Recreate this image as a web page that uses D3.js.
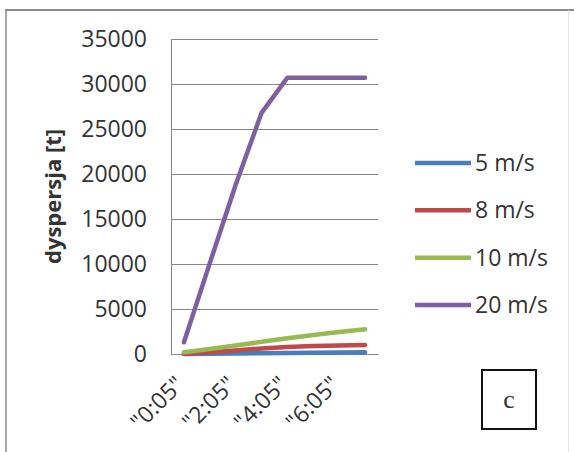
<!DOCTYPE html>
<html>
<head>
<meta charset="utf-8">
<script src="https://cdn.jsdelivr.net/npm/d3@7"></script>
<style>
  html, body { margin: 0; padding: 0; background: #fff; }
  svg { display: block; }
  text { font-family: "Open Sans", "DejaVu Sans", sans-serif; fill: #333; }
</style>
</head>
<body>
<svg id="chart" width="574" height="452"></svg>
<script>
// Time steps (every other one is labelled on the axis)
const categories = ['"0:05"', '"1:05"', '"2:05"', '"3:05"', '"4:05"', '"5:05"', '"6:05"', '"7:05"'];
const shownLabels = ['"0:05"', '"2:05"', '"4:05"', '"6:05"'];

// Dispersion [t] per wind speed
const series5 = [0, 30, 60, 90, 120, 150, 170, 190];
const series8 = [20, 200, 400, 620, 780, 880, 950, 1000];
const series10 = [200, 550, 950, 1350, 1750, 2100, 2450, 2750];
const series20 = [1300, 10100, 18800, 26800, 30700, 30700, 30700, 30700];

const seriesNames = ["5 m/s", "8 m/s", "10 m/s", "20 m/s"];
const seriesColors = ["#4A7EBB", "#BE4B48", "#98B954", "#7D60A0"];
const yTicks = [0, 5000, 10000, 15000, 20000, 25000, 30000, 35000];

const series = [series5, series8, series10, series20].map((v, i) => ({
  name: seriesNames[i], color: seriesColors[i], values: v
}));

const svg = d3.select("#chart");

// Outer frame
svg.append("line").attr("x1", 5).attr("x2", 574).attr("y1", 10).attr("y2", 10)
  .attr("stroke", "#8a8a8a").attr("stroke-width", 2);
svg.append("line").attr("x1", 6).attr("x2", 6).attr("y1", 10).attr("y2", 452)
  .attr("stroke", "#8a8a8a").attr("stroke-width", 1.5);
svg.append("line").attr("x1", 568.5).attr("x2", 568.5).attr("y1", 10).attr("y2", 452)
  .attr("stroke", "#e4e4e4").attr("stroke-width", 1);

const plot = { left: 171, right: 378, top: 39, bottom: 354 };

const x = d3.scalePoint().domain(categories).range([plot.left, plot.right]).padding(0.5);
const y = d3.scaleLinear().domain([0, 35000]).range([plot.bottom, plot.top]);

// Horizontal gridlines + y tick labels
const yAxis = d3.axisLeft(y).tickValues(yTicks).tickSize(-(plot.right - plot.left))
  .tickPadding(24).tickFormat(d3.format("d"));
const gy = svg.append("g").attr("transform", `translate(${plot.left},0)`).call(yAxis);
gy.select(".domain").attr("stroke", "#868686");
gy.selectAll(".tick line").attr("stroke", "#868686").attr("stroke-width", 1.2);
gy.selectAll(".tick text").attr("font-size", 23).attr("fill", "#333")
  .style("font-family", '"Open Sans", sans-serif');

// Category axis (labels only on every other step)
const xAxis = d3.axisBottom(x).tickSize(0).tickFormat(d => shownLabels.includes(d) ? d : "");
const gx = svg.append("g").attr("transform", `translate(0,${plot.bottom})`).call(xAxis);
gx.select(".domain").attr("stroke", "#868686").attr("stroke-width", 1.2);
gx.selectAll(".tick text")
  .attr("font-size", 23).attr("fill", "#333")
  .style("font-family", '"Open Sans", sans-serif')
  .attr("text-anchor", "end").attr("dy", null).attr("y", 0)
  .attr("transform", "translate(1,32) rotate(-45)");

// Y axis title
svg.append("text")
  .attr("transform", `translate(61,${(plot.top + plot.bottom) / 2}) rotate(-90)`)
  .attr("text-anchor", "middle")
  .attr("font-size", 22).attr("font-weight", "bold")
  .text("dyspersja [t]");

// Series lines
const line = d3.line().x((d, i) => x(categories[i])).y(d => y(d));
svg.append("g").selectAll("path").data(series).join("path")
  .attr("d", d => line(d.values))
  .attr("fill", "none")
  .attr("stroke", d => d.color)
  .attr("stroke-width", 4.5)
  .attr("stroke-linejoin", "round")
  .attr("stroke-linecap", "round");

// Legend
const legendY = d3.scalePoint().domain(seriesNames).range([163, 305]);
const lg = svg.append("g").selectAll("g").data(series).join("g")
  .attr("transform", d => `translate(415,${legendY(d.name)})`);
lg.append("line").attr("x1", 0).attr("x2", 56).attr("y1", 0).attr("y2", 0)
  .attr("stroke", d => d.color).attr("stroke-width", 4.5);
lg.append("text").attr("x", 60).attr("y", 0).attr("dy", "0.35em")
  .attr("font-size", 23).text(d => d.name);

// Panel marker "c"
svg.append("rect").attr("x", 482).attr("y", 370).attr("width", 54).attr("height", 59)
  .attr("fill", "#fff").attr("stroke", "#111").attr("stroke-width", 2);
svg.append("text").attr("x", 509).attr("y", 408)
  .attr("text-anchor", "middle")
  .style("font-family", '"Liberation Serif", "Times New Roman", serif')
  .attr("font-size", 26).attr("fill", "#111").text("c");
</script>
</body>
</html>
